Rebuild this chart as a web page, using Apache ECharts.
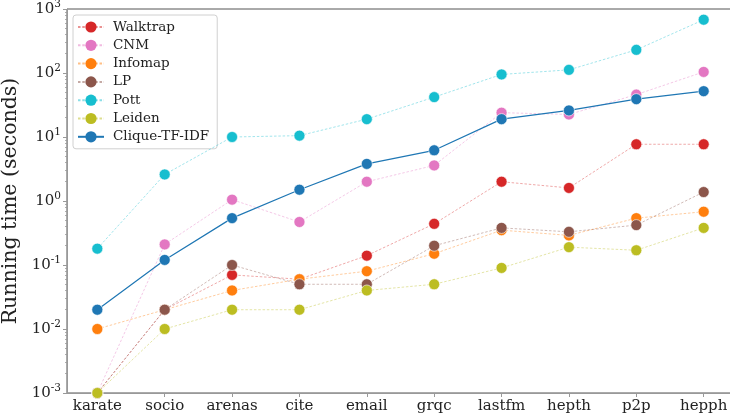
<!DOCTYPE html>
<html>
<head>
<meta charset="utf-8">
<script src="https://cdn.jsdelivr.net/npm/echarts@6/dist/echarts.min.js"></script>
<style>
  html, body { margin: 0; padding: 0; background: #fff; }
  #chart { width: 730px; height: 418px; }
</style>
</head>
<body>
<div id="chart"></div>
<script>
// Running time of community detection methods per dataset (log scale)
const datasets = ['karate', 'socio', 'arenas', 'cite', 'email', 'grqc', 'lastfm', 'hepth', 'p2p', 'hepph'];

const walktrap  = [0.001, 0.02, 0.07, 0.06, 0.14, 0.44, 2.0, 1.6, 7.7, 7.7];
const cnm       = [0.001, 0.21, 1.05, 0.47, 2.0, 3.6, 24, 22.5, 46, 104];
const infomap   = [0.01, 0.02, 0.04, 0.06, 0.08, 0.15, 0.35, 0.29, 0.54, 0.68];
const lp        = [0.001, 0.02, 0.1, 0.05, 0.05, 0.2, 0.38, 0.33, 0.42, 1.38];
const pott      = [0.18, 2.6, 10, 10.5, 19, 42, 95, 112, 230, 680];
const leiden    = [0.001, 0.01, 0.02, 0.02, 0.04, 0.05, 0.09, 0.19, 0.17, 0.38];
const cliqueTfIdf = [0.02, 0.12, 0.54, 1.5, 3.8, 6.2, 19, 26, 39, 52];

const yTickLabels = ['10{s|-3}', '10{s|-2}', '10{s|-1}', '10{s|0}', '10{s|1}', '10{s|2}', '10{s|3}'];

const methods = [
  { name: 'Walktrap',    data: walktrap,    color: '#d62728', solid: false },
  { name: 'CNM',         data: cnm,         color: '#e377c2', solid: false },
  { name: 'Infomap',     data: infomap,     color: '#ff7f0e', solid: false },
  { name: 'LP',          data: lp,          color: '#8c564b', solid: false },
  { name: 'Pott',        data: pott,        color: '#17becf', solid: false },
  { name: 'Leiden',      data: leiden,      color: '#bcbd22', solid: false },
  { name: 'Clique-TF-IDF', data: cliqueTfIdf, color: '#1f77b4', solid: true }
];

// minor log ticks (2..9 in each decade)
const minorTicks = [];
for (let e = -3; e < 3; e++) {
  for (let m = 2; m <= 9; m++) minorTicks.push(+(m * Math.pow(10, e)).toPrecision(3));
}
const majorTicks = [0.001, 0.01, 0.1, 1, 10, 100, 1000];

const serif = 'DejaVu Serif';

const series = methods.map((m, i) => ({
  name: m.name,
  type: 'line',
  data: m.data.map((v, j) => [j, v]),
  symbol: 'circle',
  symbolSize: 11,
  z: 2 + i,
  clip: true,
  itemStyle: { color: m.color, borderColor: '#fff', borderWidth: 0.6, opacity: 1 },
  lineStyle: m.solid
    ? { color: m.color, width: 1.2, type: 'solid', opacity: 1 }
    : { color: m.color, width: 0.8, type: [2.5, 1.8], opacity: 0.5 },
  emphasis: { disabled: true },
  animation: false
}));

const chart = echarts.init(document.getElementById('chart'), null, { renderer: 'canvas' });
chart.setOption({
  animation: false,
  backgroundColor: '#fff',
  textStyle: { fontFamily: serif },
  grid: {
    left: 67, top: 9, bottom: 25, width: 667,
    containLabel: false,
    outerBoundsMode: 'none',
    show: true, borderColor: '#555', borderWidth: 1, backgroundColor: 'transparent'
  },
  legend: {
    data: methods.map(m => m.name),
    orient: 'vertical',
    left: 73, top: 15,
    itemGap: 4.3,
    itemWidth: 26, itemHeight: 14,
    padding: [5, 8, 5, 4],
    backgroundColor: 'rgba(255,255,255,0.85)',
    borderColor: '#d0d0d0', borderWidth: 1, borderRadius: 3,
    textStyle: { fontFamily: serif, fontSize: 13.5, color: '#222', padding: [0, 0, 0, 4] },
    itemStyle: { borderWidth: 0 }
  },
  xAxis: {
    type: 'value',
    min: -0.45, max: 9.45,
    axisLine: { show: true, onZero: false, lineStyle: { color: '#999', width: 1 } },
    axisTick: { show: true, length: 4, lineStyle: { color: '#999' }, customValues: datasets.map((d, i) => i) },
    axisLabel: {
      customValues: datasets.map((d, i) => i),
      formatter: v => datasets[Math.round(v)],
      fontFamily: serif, fontSize: 15, color: '#222', margin: 6
    },
    splitLine: { show: false }
  },
  yAxis: [
    {
      type: 'log',
      logBase: 10,
      min: 0.001, max: 1000,
      name: 'Running time (seconds)',
      nameLocation: 'middle',
      nameGap: 42,
      nameTextStyle: { fontFamily: serif, fontSize: 20.5, color: '#222' },
      axisLine: { show: true, onZero: false, lineStyle: { color: '#999', width: 1 } },
      axisTick: { show: true, length: 4, lineStyle: { color: '#999' }, customValues: majorTicks },
      axisLabel: {
        customValues: majorTicks,
        formatter: v => yTickLabels[Math.round(Math.log10(v)) + 3],
        fontFamily: serif, fontSize: 15, color: '#222', margin: 6,
        rich: { s: { fontFamily: serif, fontSize: 10.5, color: '#222', padding: [0, 0, 9, 0] } }
      },
      splitLine: { show: false },
      minorTick: { show: false }
    },
    {
      type: 'log',
      logBase: 10,
      min: 0.001, max: 1000,
      position: 'left',
      offset: 0,
      axisLine: { show: false, onZero: false },
      axisTick: { show: true, length: 2, lineStyle: { color: '#999', width: 0.8 }, customValues: minorTicks },
      axisLabel: { show: false },
      splitLine: { show: false }
    }
  ],
  series: series
});
</script>
</body>
</html>
